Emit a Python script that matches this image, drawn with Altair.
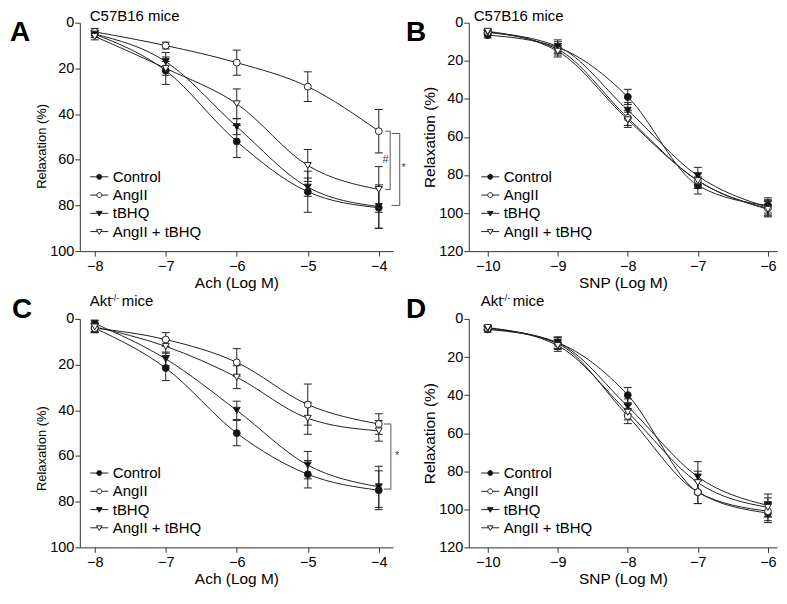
import altair as alt
import pandas as pd

SERIES = ["Control", "AngII", "tBHQ", "AngII + tBHQ"]
ACH_X = [-8, -7, -6, -5, -4]
SNP_X = [-10, -9, -8, -7, -6]
Y_TICKS_100 = [0, 20, 40, 60, 80, 100]
Y_TICKS_120 = [0, 20, 40, 60, 80, 100, 120]

# Panel A: C57B16 mice, Ach
A_MEAN = {
    "Control": [5, 21, 52, 74, 81],
    "AngII": [4, 10, 17.5, 28, 47.5],
    "tBHQ": [5, 17, 45.5, 72, 80.5],
    "AngII + tBHQ": [6, 20, 35.5, 62.5, 73],
}
A_ERR = {
    "Control": [1.5, 6, 7, 9, 9],
    "AngII": [1.5, 1.5, 5.5, 6.5, 9.5],
    "tBHQ": [1.5, 4, 3.5, 4, 9.5],
    "AngII + tBHQ": [1.5, 3, 6.5, 7, 10],
}
# Panel B: C57B16 mice, SNP
B_MEAN = {
    "Control": [6.5, 13, 39, 85.5, 96],
    "AngII": [5, 14, 50, 83, 97.5],
    "tBHQ": [5, 12.5, 46, 80.5, 97],
    "AngII + tBHQ": [4.5, 15, 51, 83, 98],
}
B_ERR = {
    "Control": [1.5, 3, 4, 4.5, 4],
    "AngII": [1, 3, 4, 4, 4],
    "tBHQ": [1, 3.5, 4, 4.5, 4],
    "AngII + tBHQ": [1, 3, 4, 4, 4],
}
# Panel C: Akt-/- mice, Ach
C_MEAN = {
    "Control": [4, 21.5, 50, 68, 75],
    "AngII": [4, 9, 19, 37.5, 46],
    "tBHQ": [2, 17.5, 40, 64, 73.5],
    "AngII + tBHQ": [3.5, 12, 25.5, 43.5, 49],
}
C_ERR = {
    "Control": [2, 5.5, 5.5, 6, 8.5],
    "AngII": [2, 3, 6, 9, 4.5],
    "tBHQ": [1.5, 3, 4, 6, 9],
    "AngII + tBHQ": [2, 3, 5, 7, 4.5],
}
# Panel D: Akt-/- mice, SNP
D_MEAN = {
    "Control": [5.5, 12.5, 40, 91, 102],
    "AngII": [5, 13, 51, 91, 101],
    "tBHQ": [5, 12.5, 46, 83, 98],
    "AngII + tBHQ": [4.5, 14, 49, 86, 99],
}
D_ERR = {
    "Control": [1.5, 3, 4, 6, 5],
    "AngII": [1, 3, 4, 6, 5],
    "tBHQ": [1, 3, 4, 8, 6],
    "AngII + tBHQ": [1, 3, 4, 6, 5],
}

# significance brackets: (arm x, bar x, y top, y bottom)
A_BRACKETS = [(-3.91, -3.84, 47.5, 73), (-3.82, -3.705, 48.5, 80)]
A_SIGNS = [("#", -3.905, 60.3), ("*", -3.65, 63.7)]
C_BRACKETS = [(-3.93, -3.83, 46, 74.5)]
C_SIGNS = [("*", -3.74, 60)]

FONT = "Liberation Sans, Arial, sans-serif"
INK = "#222222"
SHAPES = ["circle", "circle", "triangle-down", "triangle-down"]
FILLS = ["#111111", "#ffffff", "#111111", "#ffffff"]
STROKES = [INK, INK, INK, INK]
r = 0.28
CIRC = f"M-1,0H-{r}M{r},0H1M-{r},0A{r},{r},0,1,1,{r},0A{r},{r},0,1,1,-{r},0Z"
TRI = "M-1,0H-0.17M0.17,0H1M-0.32,-0.22H0.32L0,0.3Z"
LEG_PATHS = [CIRC, CIRC, TRI, TRI]

W1, W2, H = 314, 309, 229


def build_df(xv, means, errs):
    rows = []
    for s in SERIES:
        for x, m, e in zip(xv, means[s], errs[s]):
            rows.append({"series": s, "x": x, "y": m, "lo": m - e, "hi": m + e})
    return pd.DataFrame(rows)


def panel(xv, means, errs, xdom, ydom, yvals, w, xtitle, yt_size, yt_y,
          legend_x, letter, letter_xy, title_parts, brackets, signs):
    df = build_df(xv, means, errs)
    xs = alt.Scale(domain=xdom, nice=False, zero=False)
    ys = alt.Scale(domain=ydom, reverse=True, nice=False, zero=False)
    xaxis = alt.Axis(values=xv, title=xtitle, format="d")
    yaxis = alt.Axis(values=yvals, title="Relaxation (%)", titleFontSize=yt_size,
                     titleY=yt_y)

    def X(f):
        return alt.X(f, scale=xs, axis=xaxis)

    def Y(f):
        return alt.Y(f, scale=ys, axis=yaxis)

    base = alt.Chart(df)
    lines = base.mark_line(interpolate="monotone", color=INK, strokeWidth=1).encode(
        X("x:Q"), Y("y:Q"), detail="series:N")
    rules = base.mark_rule(color=INK, strokeWidth=1).encode(
        X("x:Q"), Y("lo:Q"), y2="hi:Q")
    caps = base.transform_fold(["lo", "hi"], as_=["k", "v"]).mark_point(
        shape="stroke", size=64, color=INK, strokeWidth=1, filled=False, opacity=1
    ).encode(X("x:Q"), Y("v:Q"))
    markers = base.mark_point(filled=True, size=48, stroke=INK, strokeWidth=1, opacity=1).encode(
        X("x:Q"), Y("y:Q"),
        shape=alt.Shape("series:N", scale=alt.Scale(domain=SERIES, range=SHAPES), legend=None),
        fill=alt.Fill("series:N", scale=alt.Scale(domain=SERIES, range=FILLS), legend=None),
    )
    leg = alt.Legend(title=None, orient="none", legendX=legend_x, legendY=H - 84,
                     labelFont=FONT, labelFontSize=15, labelColor="black",
                     symbolSize=324, symbolStrokeWidth=1,
                     rowPadding=0.3, labelOffset=4, padding=0)
    legend_layer = base.transform_filter("datum.y < -1000").mark_point(
        filled=False, size=324, strokeWidth=1, opacity=1
    ).encode(
        X("x:Q"), Y("y:Q"),
        shape=alt.Shape("series:N", scale=alt.Scale(domain=SERIES, range=LEG_PATHS), legend=leg),
        fill=alt.Fill("series:N", scale=alt.Scale(domain=SERIES, range=FILLS), legend=leg),
        stroke=alt.Stroke("series:N", scale=alt.Scale(domain=SERIES, range=STROKES), legend=leg),
    )
    layers = [lines, rules, caps, markers, legend_layer]

    if brackets:
        brows = []
        for i, (xa, xb, y1, y2) in enumerate(brackets):
            pts = [(xa, y1), (xb, y1), (xb, y2), (xa, y2)]
            for j, (bx, by) in enumerate(pts):
                brows.append({"g": i, "o": j, "bx": bx, "by": by})
        layers.append(alt.Chart(pd.DataFrame(brows)).mark_line(color="#555555", strokeWidth=1).encode(
            X("bx:Q"), Y("by:Q"), detail="g:N", order="o:Q"))
    if signs:
        sdf = pd.DataFrame([{"t": t, "sx": sx, "sy": sy} for t, sx, sy in signs])
        layers.append(alt.Chart(sdf).mark_text(font=FONT, fontSize=11, color="#444444").encode(
            X("sx:Q"), Y("sy:Q"), text="t:N"))

    ldf = pd.DataFrame({"t": [letter]})
    layers.append(alt.Chart(ldf).mark_text(
        align="left", baseline="alphabetic", font=FONT, fontSize=28, fontWeight="bold", color="black"
    ).encode(x=alt.value(letter_xy[0]), y=alt.value(letter_xy[1]), text="t:N"))
    for t, tx, ty, ts in title_parts:
        tdf = pd.DataFrame({"t": [t]})
        layers.append(alt.Chart(tdf).mark_text(
            align="left", baseline="alphabetic", font=FONT, fontSize=ts, color="black"
        ).encode(x=alt.value(tx), y=alt.value(ty), text="t:N"))

    return alt.layer(*layers).resolve_scale(
        shape="independent", fill="independent", stroke="independent").properties(width=w, height=H)


pA = panel(ACH_X, A_MEAN, A_ERR, [-8.21, -3.80], [0, 100], Y_TICKS_100, W1, "Ach (Log M)",
           13, H / 2 + 9, 10, "A", (-70, 18), [("C57B16 mice", 10, -2, 15)], A_BRACKETS, A_SIGNS)
pB = panel(SNP_X, B_MEAN, B_ERR, [-10.27, -5.87], [0, 120], Y_TICKS_120, W2, "SNP (Log M)",
           15.5, H / 2, 12, "B", (-63, 18), [("C57B16 mice", 5, -2, 15)], None, None)
pC = panel(ACH_X, C_MEAN, C_ERR, [-8.21, -3.80], [0, 100], Y_TICKS_100, W1, "Ach (Log M)",
           13, H / 2 + 15, 10, "C", (-68, -1),
           [("Akt", 10, -12.5, 15), ("-/-", 31, -18, 9), ("mice", 42, -12.5, 15)], C_BRACKETS, C_SIGNS)
pD = panel(SNP_X, D_MEAN, D_ERR, [-10.27, -5.87], [0, 120], Y_TICKS_120, W2, "SNP (Log M)",
           15.5, H / 2, 12, "D", (-63, -1),
           [("Akt", 12, -12.5, 15), ("-/-", 33, -18, 9), ("mice", 44, -12.5, 15)], None, None)

chart = alt.concat(pA, pB, pC, pD, columns=2, spacing={"row": 68, "column": 76}, bounds="flush").properties(
    padding={"left": 2, "top": 0, "right": 2, "bottom": 0}
).configure_view(stroke=None).configure_axis(
    domainColor="#333333", tickColor="#333333", labelFont=FONT, titleFont=FONT,
    labelFontSize=14.5, labelColor="black", titleColor="black", titleFontWeight="normal",
    grid=False, tickSize=5, domainWidth=1, tickWidth=1,
).configure_axisX(labelPadding=3, titlePadding=3, titleFontSize=15.5).configure_axisY(
    labelPadding=1, titlePadding=1)

chart.save("out.html", embed_options={"renderer": "svg", "actions": False})
